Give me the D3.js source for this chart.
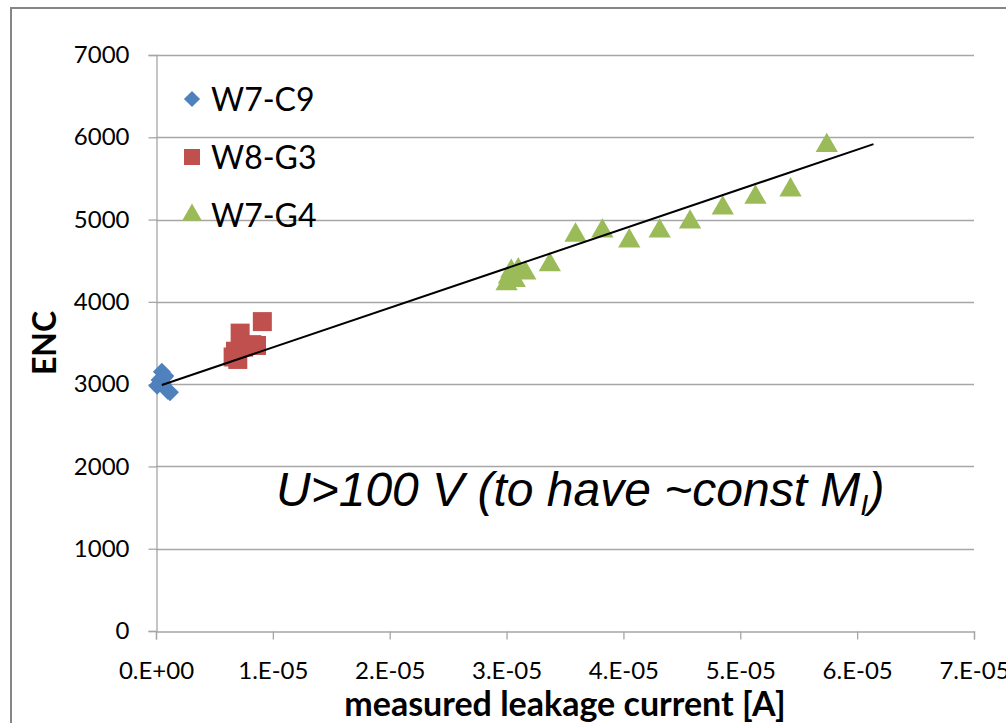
<!DOCTYPE html>
<html>
<head>
<meta charset="utf-8">
<script src="https://cdn.jsdelivr.net/npm/d3@7"></script>
<style>
  body { margin: 0; background: #fff; }
  svg { display: block; }
  .tick-label { font-family: Lato, "Open Sans", sans-serif; font-size: 24px; fill: #000; }
</style>
</head>
<body>
<svg id="chart" width="1006" height="723"></svg>
<script>
// ---- data ----
const seriesNames = ["W7-C9", "W8-G3", "W7-G4"];
const seriesColors = ["#4F81BD", "#C0504D", "#9BBB59"];

// W7-C9 (blue diamonds)
const c9Current = [0.1e-6, 0.3e-6, 0.4e-6, 0.5e-6, 0.6e-6, 0.7e-6, 0.8e-6, 1.0e-6, 1.2e-6];
const c9Enc     = [2980, 3050, 3020, 3150, 3000, 3080, 3100, 2920, 2900];

// W8-G3 (red squares)
const g3Current = [6.6e-6, 6.8e-6, 7.0e-6, 7.2e-6, 7.5e-6, 8.2e-6, 8.6e-6, 9.1e-6];
const g3Enc     = [3330, 3400, 3300, 3620, 3450, 3480, 3470, 3760];

// W7-G4 (green triangles)
const g4Current = [3.00e-5, 3.02e-5, 3.04e-5, 3.07e-5, 3.10e-5, 3.16e-5, 3.37e-5,
                   3.59e-5, 3.82e-5, 4.05e-5, 4.31e-5, 4.57e-5, 4.85e-5, 5.13e-5, 5.43e-5, 5.74e-5];
const g4Enc     = [4220, 4300, 4370, 4260, 4390, 4350, 4450,
                   4810, 4860, 4740, 4860, 4970, 5140, 5270, 5360, 5900];

// linear trend line end points
const trendCurrent = [0.5e-6, 6.14e-5];
const trendEnc     = [2990, 5917];

const xTicks = [0, 1e-5, 2e-5, 3e-5, 4e-5, 5e-5, 6e-5, 7e-5];
const xTickLabels = ["0.E+00", "1.E-05", "2.E-05", "3.E-05", "4.E-05", "5.E-05", "6.E-05", "7.E-05"];
const yTicks = [0, 1000, 2000, 3000, 4000, 5000, 6000, 7000];

const xTitle = "measured leakage current [A]";
const yTitle = "ENC";

// ---- layout ----
const svg = d3.select("#chart");
const plot = { left: 156, right: 974, top: 55, bottom: 631 };

const x = d3.scaleLinear().domain([0, 7e-5]).range([plot.left, plot.right]);
const y = d3.scaleLinear().domain([0, 7000]).range([plot.bottom, plot.top]);

// outer frame
svg.append("rect")
  .attr("x", 11).attr("y", 8)
  .attr("width", 1100).attr("height", 800)
  .attr("fill", "none")
  .attr("stroke", "#868686")
  .attr("stroke-width", 2);

// horizontal gridlines
svg.append("g")
  .selectAll("line")
  .data(yTicks.filter(d => d > 0))
  .join("line")
  .attr("x1", plot.left).attr("x2", plot.right)
  .attr("y1", d => Math.round(y(d)) + 0.5).attr("y2", d => Math.round(y(d)) + 0.5)
  .attr("stroke", "#a6a6a6").attr("stroke-width", 1.3);

// y axis
const yAxis = svg.append("g")
  .attr("transform", `translate(${plot.left + 0.5},0)`)
  .call(d3.axisLeft(y).tickValues(yTicks).tickSize(8).tickPadding(19).tickFormat(d3.format("d")));
yAxis.select(".domain").attr("stroke", "#a6a6a6").attr("stroke-width", 1.3);
yAxis.selectAll(".tick line").attr("stroke", "#a6a6a6").attr("stroke-width", 1.3);
yAxis.selectAll(".tick text").attr("class", "tick-label").attr("font-family", null).attr("font-size", null);

// x axis
const xAxis = svg.append("g")
  .attr("transform", `translate(0,${Math.round(plot.bottom) + 0.5})`)
  .call(d3.axisBottom(x).tickValues(xTicks).tickSize(8).tickPadding(22)
    .tickFormat((d, i) => xTickLabels[i]));
xAxis.select(".domain").attr("stroke", "#a6a6a6").attr("stroke-width", 1.3);
xAxis.selectAll(".tick line").attr("stroke", "#a6a6a6").attr("stroke-width", 1.3);
xAxis.selectAll(".tick text").attr("class", "tick-label").attr("font-family", null).attr("font-size", null);

// axis titles
svg.append("text")
  .attr("x", 565).attr("y", 716)
  .attr("text-anchor", "middle")
  .attr("font-family", "Lato, sans-serif").attr("font-weight", "bold").attr("font-size", 34)
  .text(xTitle);

svg.append("text")
  .attr("transform", "translate(56,343) rotate(-90)")
  .attr("text-anchor", "middle")
  .attr("font-family", "Lato, sans-serif").attr("font-weight", "bold").attr("font-size", 32)
  .text(yTitle);

// markers
const diamond = d3.symbol().type(d3.symbolSquare).size(160);
const square = d3.symbol().type(d3.symbolSquare).size(361);
const triangle = d3.symbol().type(d3.symbolTriangle).size(215);

const series = [
  { cur: c9Current, enc: c9Enc, sym: diamond, rot: 45 },
  { cur: g3Current, enc: g3Enc, sym: square, rot: 0 },
  { cur: g4Current, enc: g4Enc, sym: triangle, rot: 0 }
];

series.forEach((s, k) => {
  svg.append("g")
    .selectAll("path")
    .data(s.cur.map((c, i) => ({ c, e: s.enc[i] })))
    .join("path")
    .attr("d", s.sym)
    .attr("transform", d => `translate(${x(d.c)},${y(d.e)}) rotate(${s.rot})`)
    .attr("fill", seriesColors[k]);
});

// trend line
svg.append("line")
  .attr("x1", x(trendCurrent[0])).attr("y1", y(trendEnc[0]))
  .attr("x2", x(trendCurrent[1])).attr("y2", y(trendEnc[1]))
  .attr("stroke", "#000").attr("stroke-width", 2);

// legend
const legend = svg.append("g");
const legendSyms = [
  d3.symbol().type(d3.symbolSquare).size(130),
  d3.symbol().type(d3.symbolSquare).size(256),
  d3.symbol().type(d3.symbolTriangle).size(170)
];
const legendRot = [45, 0, 0];
seriesNames.forEach((name, i) => {
  const cy = 99 + i * 58;
  legend.append("path")
    .attr("d", legendSyms[i])
    .attr("transform", `translate(192,${cy}) rotate(${legendRot[i]})`)
    .attr("fill", seriesColors[i]);
  legend.append("text")
    .attr("x", 211).attr("y", cy + 12)
    .attr("font-family", "Lato, sans-serif").attr("font-size", 32)
    .text(name);
});

// annotation
const note = svg.append("text")
  .attr("x", 276).attr("y", 506)
  .attr("font-family", "'Liberation Sans', Arial, sans-serif")
  .attr("font-style", "italic").attr("font-size", 48);
note.append("tspan").text("U>100 V (to have ~const M");
note.append("tspan").attr("font-size", 29).attr("dy", 9).text("I");
note.append("tspan").attr("dy", -9).text(")");
</script>
</body>
</html>
